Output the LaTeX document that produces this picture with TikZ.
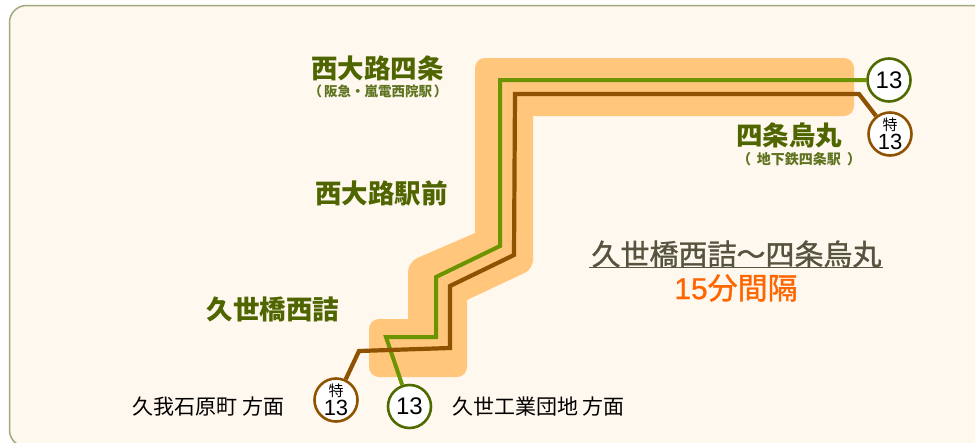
\documentclass[tikz,border=0pt]{standalone}
\usepackage{fontspec}
\setmainfont{Noto Sans CJK JP}
\newfontfamily\numfont{Liberation Sans}
\newfontfamily\titlefont[FakeBold=1.2]{Noto Sans CJK JP}
\newfontfamily\titlenum[FakeBold=0.6]{Liberation Sans}
\definecolor{bgc}{HTML}{FFF8EF}
\definecolor{bandc}{HTML}{FFC67C}
\definecolor{edgec}{HTML}{A3A97E}
\definecolor{linegreen}{HTML}{6B9400}
\definecolor{ringgreen}{HTML}{4F6B00}
\definecolor{linebrown}{HTML}{8F5200}
\definecolor{labelgreen}{HTML}{4F6600}
\definecolor{sublabelgreen}{HTML}{5F7420}
\definecolor{titlec}{HTML}{55553F}
\definecolor{orangec}{HTML}{FF6600}
\tikzset{
  ringbase/.style={circle,fill=white,line width=2.6pt,minimum size=43pt,inner sep=0pt,align=center,text=black},
  ringg/.style={ringbase,draw=ringgreen,font=\numfont\fontsize{24}{24}\selectfont},
  ringb/.style={ringbase,draw=linebrown},
  tokuchar/.style={inner sep=0pt,text=black,font=\fontsize{15}{15}\selectfont},
  tokunum/.style={inner sep=0pt,text=black,font=\numfont\fontsize{22}{22}\selectfont},
  stn/.style={text=labelgreen,font=\bfseries\fontsize{26.5}{28}\selectfont,inner sep=0pt},
  stnsub/.style={text=sublabelgreen,font=\bfseries\fontsize{14}{15}\selectfont,inner sep=0pt},
  dirlabel/.style={text=black,font=\fontsize{21}{22}\selectfont,inner sep=0pt},
  routeg/.style={draw=linegreen,line width=4pt,line join=miter},
  routeb/.style={draw=linebrown,line width=4.2pt,line join=miter}
}
\begin{document}
\begin{tikzpicture}[x=1pt,y=-1pt]
\useasboundingbox (0,0) rectangle (975,442);
\fill[white] (0,0) rectangle (975,442);
\draw[fill=bgc,draw=edgec,line width=1.5pt,rounded corners=17pt] (9.5,5.5) rectangle (990,447);
% band
\fill[bandc] (533,116) -- (533,262) [rounded corners=9pt] -- (533,269) [sharp corners] -- (467,300) [rounded corners=10pt] -- (467,377) -- (369,377) -- (369,319) [sharp corners] -- (408,319) [rounded corners=10pt] -- (408,262) [sharp corners] -- (475,233) [rounded corners=10pt] -- (475,58) -- (854,58) -- (854,116) [sharp corners] -- cycle;
% coordinates
\coordinate (g1) at (500,80);
\coordinate (g2) at (500,246);
\coordinate (g3) at (436,277);
\coordinate (g4) at (436,337);
\coordinate (g5) at (386,337);
\coordinate (b1) at (859,94);
\coordinate (b2) at (515,94);
\coordinate (b3) at (514,255);
\coordinate (b4) at (450,286);
\coordinate (b5) at (450,348);
\coordinate (b6) at (359,351);
% rings
\node[ringg] (rg1) at (889,80) {13};
\node[ringg] (rg2) at (409.5,406.5) {13};
\node[ringb] (rb1) at (890,134) {};
\node[ringb] (rb2) at (336,400) {};
\node[tokuchar] (rb1c) at (890,125) {特};
\node[tokunum] (rb1n) at (890,141.5) {13};
\node[tokuchar] (rb2c) at (336,390.5) {特};
\node[tokunum] (rb2n) at (336,407.5) {13};
% routes
\draw[routeg] (rg1) -- (g1) -- (g2) -- (g3) -- (g4) -- (g5) -- (rg2);
\draw[routeb] (rb1) -- (b1) -- (b2) -- (b3) -- (b4) -- (b5) -- (b6) -- (rb2);
% labels
\node[stn] (s1) at (377.5,68) {西大路四条};
\node[stnsub,font=\bfseries\fontsize{13.5}{15}\selectfont] (s1s) at (378,91) {（\hspace{2pt}阪急・嵐電西院駅\hspace{2pt}）};
\node[stn] (s2) at (381.5,193) {西大路駅前};
\node[stn] (s3) at (273,309) {久世橋西詰};
\node[stn] (s4) at (789,135) {四条烏丸};
\node[stnsub] (s4s) at (799,159) {（\hspace{6pt}地下鉄四条駅\hspace{6pt}）};
\node[dirlabel] (d1) at (208.5,407) {久我石原町 方面};
\node[dirlabel] (d2) at (538.5,407) {久世工業団地 方面};
\node[text=titlec,font=\titlefont\fontsize{29}{31}\selectfont,inner sep=0pt] (t1) at (736.5,254) {久世橋西詰～四条烏丸};
\draw[titlec,line width=1.5pt] (589,267.5) -- (883,267.5);
\node[text=orangec,font=\titlefont\fontsize{30}{32}\selectfont,inner sep=0pt] (t2) at (736,288) {{\titlenum 15}分間隔};
\end{tikzpicture}
\end{document}
